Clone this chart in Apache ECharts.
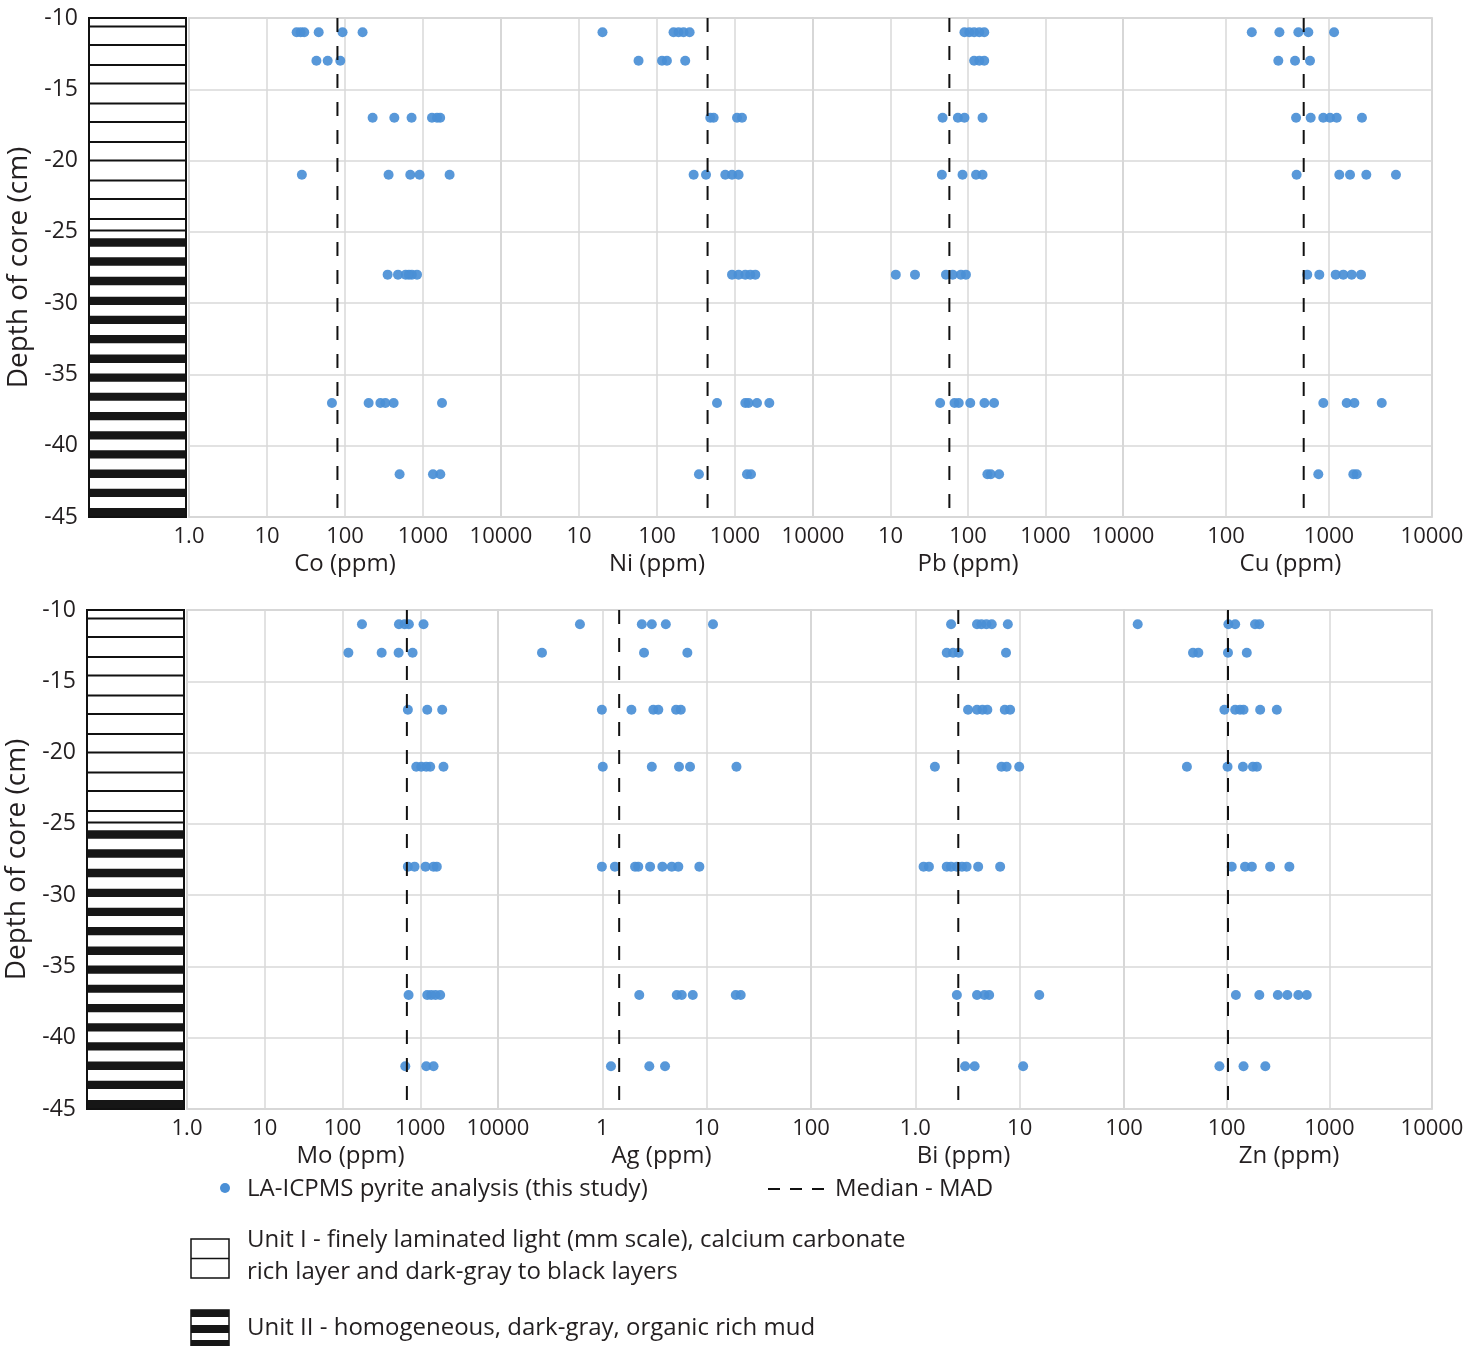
<!DOCTYPE html>
<html>
<head>
<meta charset="utf-8">
<script src="https://cdn.jsdelivr.net/npm/echarts@6/dist/echarts.min.js"></script>
<style>
html, body { margin: 0; padding: 0; background: #fff; }
#chart { width: 1479px; height: 1346px; }
</style>
</head>
<body>
<div id="chart"></div>
<script>
// sample depths (cm), one row of points per depth
var depths = [-11, -13, -17, -21, -28, -37, -42];

var co = [[24, 27, 30, 46, 93, 168], [43, 60, 87], [226, 429, 714, 1303, 1513, 1660], [28, 362, 687, 904, 2193],
	[352, 478, 600, 660, 720, 838], [68, 201, 284, 329, 420, 1753], [501, 1343, 1667]];
var ni = [[20, 163, 189, 219, 262], [58, 116, 134, 230], [482, 532, 1061, 1230], [295, 425, 751, 916, 1112],
	[916, 1112, 1356, 1571, 1820], [588, 1356, 1494, 1915, 2754], [345, 1425, 1603]];
var pb = [[90, 104, 120, 140, 162], [120, 140, 162], [47, 74, 90, 154], [46, 85, 127, 154],
	[11.7, 20.7, 52, 63.5, 81, 94], [43.7, 67, 76, 107, 163, 217], [178, 197, 252]];
var cu = [[178, 330, 504, 630, 1120], [322, 468, 654], [479, 664, 880, 1023, 1188, 2089], [485, 1259, 1600, 2303, 4467],
	[615, 805, 1161, 1377, 1660, 2046], [881, 1486, 1763, 3251], [787, 1722, 1858]];
var mo = [[178, 532, 629, 714, 1102], [119, 319, 527, 797], [693, 1230, 1915], [889, 1030, 1194, 1343, 1990],
	[693, 845, 1169, 1482, 1632], [708, 1230, 1384, 1571, 1805], [642, 1194, 1482]];
var ag = [[0.61, 2.39, 2.98, 4.06, 11.5], [0.264, 2.51, 6.53], [0.99, 1.9, 3.08, 3.44, 5.09, 5.65], [1.01, 2.98, 5.43, 6.93, 19.3],
	[0.99, 1.32, 2.06, 2.21, 2.87, 3.76, 4.63, 5.35, 8.51], [2.26, 5.17, 5.77, 7.36, 19.0, 21.2], [1.21, 2.82, 3.99]];
var bi = [[2.2, 3.9, 4.3, 4.8, 5.4, 7.7], [2.0, 2.3, 2.6, 7.4], [3.2, 3.9, 4.4, 4.9, 7.2, 8.1], [1.54, 6.7, 7.5, 9.9],
	[1.2, 1.35, 2.0, 2.2, 2.5, 2.8, 3.1, 4.0, 6.5], [2.5, 3.9, 4.6, 5.1, 15.4], [3.0, 3.7, 10.8]];
var zn = [[13.6, 104, 121, 189, 208], [47, 53, 103, 157], [95, 121, 135, 146, 212, 308], [41, 102, 144, 180, 197],
	[112, 151, 176, 265, 408], [123, 208, 315, 390, 499, 603], [85, 146, 238]];

// median - MAD (ppm)
var medians = { co: 80, ni: 445, pb: 57.5, cu: 568, mo: 673, ag: 1.45, bi: 2.58, zn: 103 };

// tick labels, one per decade from axis min
var coTicks = ['1.0', '10', '100', '1000', '10000'];
var niTicks = ['', '10', '100', '1000', '10000'];
var pbTicks = ['', '10', '100', '1000', '10000'];
var cuTicks = ['', '100', '1000', '10000'];
var moTicks = ['1.0', '10', '100', '1000', '10000'];
var agTicks = ['', '1', '10', '100'];
var biTicks = ['', '1.0', '10', '100'];
var znTicks = ['', '100', '1000', '10000'];

// core lithology (depth in cm)
var unitILines = [-10.6, -11.9, -13.3, -14.6, -16.0, -17.3, -18.7, -20.0, -21.4, -22.7, -24.1, -24.9];
var unitIIBandTop = [-25.45, -26.78, -28.15, -29.55, -30.88, -32.24, -33.6, -34.93, -36.29, -37.63, -38.98, -40.32, -41.67, -43.01, -44.37];
var unitIIBandBottom = [-26.04, -27.37, -28.75, -30.13, -31.47, -32.82, -34.19, -35.52, -36.85, -38.21, -39.56, -40.9, -42.26, -43.6, -45.0];

var FONT = '"Open Sans", sans-serif';
var TXT = '#231f20';
var DOT = '#4a8fd6';

// shift = horizontal nudge of the axis title
var panels = [
	{ key: 'co', name: 'Co (ppm)', data: co, min: 1, max: 10000, ticks: coTicks, left: 189, width: 312, top: 18, shift: 0 },
	{ key: 'ni', name: 'Ni (ppm)', data: ni, min: 1, max: 10000, ticks: niTicks, left: 501, width: 312, top: 18, shift: 0 },
	{ key: 'pb', name: 'Pb (ppm)', data: pb, min: 1, max: 10000, ticks: pbTicks, left: 813, width: 310, top: 18, shift: 0 },
	{ key: 'cu', name: 'Cu (ppm)', data: cu, min: 10, max: 10000, ticks: cuTicks, left: 1123, width: 309, top: 18, shift: 13 },
	{ key: 'mo', name: 'Mo (ppm)', data: mo, min: 1, max: 10000, ticks: moTicks, left: 187, width: 311, top: 610, shift: 8 },
	{ key: 'ag', name: 'Ag (ppm)', data: ag, min: 0.1, max: 100, ticks: agTicks, left: 498, width: 313, top: 610, shift: 7 },
	{ key: 'bi', name: 'Bi (ppm)', data: bi, min: 0.1, max: 100, ticks: biTicks, left: 811, width: 313, top: 610, shift: -4 },
	{ key: 'zn', name: 'Zn (ppm)', data: zn, min: 10, max: 10000, ticks: znTicks, left: 1124, width: 308, top: 610, shift: 11 }
];
var cores = [{ left: 89, top: 18 }, { left: 87, top: 610 }];
var PH = 499;

var grids = [], xAxes = [], yAxes = [], series = [];

function tickFormatter(p) {
	return function (v) {
		var i = Math.round(Math.log(v / p.min) / Math.LN10);
		return p.ticks[i] !== undefined ? p.ticks[i] : '';
	};
}

function colorRect(fill, stroke) {
	return function (params, api) {
		var a = api.coord([0, api.value(0)]);
		var b = api.coord([1, api.value(1)]);
		return {
			type: 'rect',
			shape: { x: a[0], y: a[1], width: b[0] - a[0], height: b[1] - a[1] },
			style: { fill: fill, stroke: stroke, lineWidth: stroke ? 2 : 0 }
		};
	};
}

// core columns
cores.forEach(function (c) {
	var gi = grids.length;
	grids.push({ left: c.left, top: c.top, width: 97, height: PH, show: false });
	xAxes.push({ gridIndex: gi, type: 'value', min: 0, max: 1, show: false });
	yAxes.push({
		gridIndex: gi, type: 'value', min: -45, max: -10, interval: 5,
		axisLine: { show: false }, axisTick: { show: false }, splitLine: { show: false },
		axisLabel: { fontFamily: FONT, fontSize: 23, color: TXT, margin: 11 },
		name: 'Depth of core (cm)', nameLocation: 'middle', nameGap: 56, nameRotate: 90,
		nameTextStyle: { fontFamily: FONT, fontSize: 28, color: TXT }
	});
	series.push({
		type: 'custom', xAxisIndex: gi, yAxisIndex: gi, silent: true, z: 1,
		data: [[-10, -45]], renderItem: colorRect('#fff', null)
	});
	series.push({
		type: 'custom', xAxisIndex: gi, yAxisIndex: gi, silent: true, z: 2,
		data: unitIIBandTop.map(function (t, i) { return [t, unitIIBandBottom[i]]; }),
		renderItem: colorRect('#161616', null)
	});
	series.push({
		type: 'custom', xAxisIndex: gi, yAxisIndex: gi, silent: true, z: 3,
		data: unitILines.map(function (d) { return [d]; }),
		renderItem: function (params, api) {
			var a = api.coord([0, api.value(0)]);
			var b = api.coord([1, api.value(0)]);
			return { type: 'line', shape: { x1: a[0], y1: a[1], x2: b[0], y2: b[1] }, style: { stroke: '#111', lineWidth: 2 } };
		}
	});
	series.push({
		type: 'custom', xAxisIndex: gi, yAxisIndex: gi, silent: true, z: 4,
		data: [[-10, -45]], renderItem: colorRect('none', '#111')
	});
});

// element panels
panels.forEach(function (p) {
	var gi = grids.length;
	var pad = p.shift >= 0 ? [0, 0, 0, p.shift * 2] : [0, -p.shift * 2, 0, 0];
	grids.push({ left: p.left, top: p.top, width: p.width, height: PH, show: true, borderColor: '#c4c4c4', borderWidth: 1.5 });
	xAxes.push({
		gridIndex: gi, type: 'log', logBase: 10, min: p.min, max: p.max,
		axisLine: { show: false }, axisTick: { show: false },
		splitLine: { show: true, lineStyle: { color: '#d8d8d8', width: 1.5 } },
		axisLabel: { fontFamily: FONT, fontSize: 22, color: TXT, margin: 9, formatter: tickFormatter(p), showMinLabel: true, showMaxLabel: true },
		name: p.name, nameLocation: 'middle', nameGap: 35,
		nameTextStyle: { fontFamily: FONT, fontSize: 24, color: TXT, padding: pad }
	});
	yAxes.push({
		gridIndex: gi, type: 'value', min: -45, max: -10, interval: 5,
		axisLine: { show: false }, axisTick: { show: false }, axisLabel: { show: false },
		splitLine: { show: true, lineStyle: { color: '#d8d8d8', width: 1.5 } }
	});
	var pts = [];
	p.data.forEach(function (row, i) {
		row.forEach(function (v) { pts.push([v, depths[i]]); });
	});
	series.push({
		name: 'LA-ICPMS pyrite analysis (this study)', type: 'scatter', xAxisIndex: gi, yAxisIndex: gi,
		symbolSize: 10, itemStyle: { color: DOT, opacity: 0.92 }, data: pts, z: 3
	});
	series.push({
		name: 'Median - MAD', type: 'line', xAxisIndex: gi, yAxisIndex: gi, symbol: 'none', silent: true, z: 4,
		lineStyle: { color: '#111', width: 2, type: [14, 14] },
		data: [[medians[p.key], -10], [medians[p.key], -45]]
	});
});

var legendFont = '24px ' + FONT;
var graphic = [
	{ type: 'circle', left: 220, top: 1183, shape: { r: 5 }, style: { fill: DOT } },
	{ type: 'text', left: 247, top: 1177, style: { text: 'LA-ICPMS pyrite analysis (this study)', font: legendFont, fill: TXT } },
	{ type: 'line', shape: { x1: 768, y1: 1189, x2: 826, y2: 1189 }, style: { stroke: '#111', lineWidth: 2, lineDash: [12, 10] } },
	{ type: 'text', left: 835, top: 1177, style: { text: 'Median - MAD', font: legendFont, fill: TXT } },
	{ type: 'rect', shape: { x: 191, y: 1239, width: 38, height: 39 }, style: { fill: '#fff', stroke: '#111', lineWidth: 1.5 } },
	{ type: 'line', shape: { x1: 191, y1: 1258.5, x2: 229, y2: 1258.5 }, style: { stroke: '#111', lineWidth: 1.5 } },
	{ type: 'text', left: 247, top: 1228, style: { text: 'Unit I - finely laminated light (mm scale), calcium carbonate', font: legendFont, fill: TXT } },
	{ type: 'text', left: 247, top: 1260, style: { text: 'rich layer and dark-gray to black layers', font: legendFont, fill: TXT } },
	{ type: 'rect', shape: { x: 191, y: 1310, width: 38, height: 36 }, style: { fill: '#fff', stroke: '#111', lineWidth: 1.5 } },
	{ type: 'rect', shape: { x: 191, y: 1310, width: 38, height: 7 }, style: { fill: '#161616' } },
	{ type: 'rect', shape: { x: 191, y: 1325, width: 38, height: 8 }, style: { fill: '#161616' } },
	{ type: 'rect', shape: { x: 191, y: 1340, width: 38, height: 6 }, style: { fill: '#161616' } },
	{ type: 'text', left: 247, top: 1316, style: { text: 'Unit II - homogeneous, dark-gray, organic rich mud', font: legendFont, fill: TXT } }
];

var chart = echarts.init(document.getElementById('chart'));
chart.setOption({
	backgroundColor: '#fff',
	animation: false,
	grid: grids,
	xAxis: xAxes,
	yAxis: yAxes,
	series: series,
	graphic: graphic
});
</script>
</body>
</html>
